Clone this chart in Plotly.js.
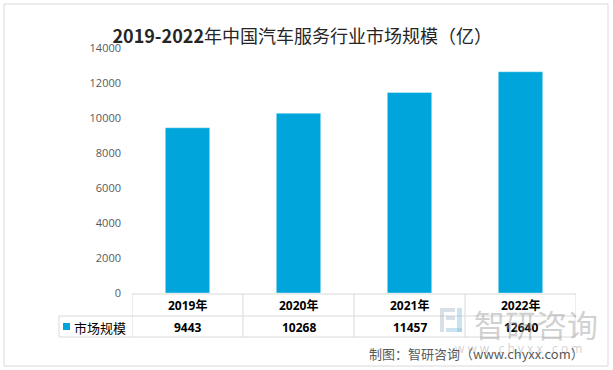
<!DOCTYPE html>
<html><head><meta charset="utf-8">
<script src="https://cdn.plot.ly/plotly-3.0.1.min.js"></script>
<style>html,body{margin:0;padding:0;background:#fff;}#chart{width:613px;height:370px;}</style>
</head><body><div id="chart"></div>
<script>
var categories = ['2019年', '2020年', '2021年', '2022年'];
var seriesName = '市场规模';
var values = [9443, 10268, 11457, 12640];
var yTicks = [0, 2000, 4000, 6000, 8000, 10000, 12000, 14000];

var W = 613, H = 370, L = 132, R = 576, T = 48, B = 293;
function xp(px){ return (px - L) / (R - L); }
function yp(py){ return (B - py) / (B - T); }
var BLUE = '#00A5DC';
var GRID = '#D9D9D9';

var shapes = [];
// outer border
shapes.push({type:'rect', xref:'paper', yref:'paper', x0:xp(4), x1:xp(608), y0:yp(4), y1:yp(366), line:{color:'#D9D9D9', width:1}, fillcolor:'rgba(0,0,0,0)', layer:'below'});
// table horizontal lines
shapes.push({type:'line', xref:'paper', yref:'paper', x0:0, x1:1, y0:yp(294), y1:yp(294), line:{color:GRID, width:1}});
shapes.push({type:'line', xref:'paper', yref:'paper', x0:xp(59), x1:1, y0:yp(316), y1:yp(316), line:{color:GRID, width:1}});
shapes.push({type:'line', xref:'paper', yref:'paper', x0:xp(59), x1:1, y0:yp(337), y1:yp(337), line:{color:GRID, width:1}});
shapes.push({type:'line', xref:'paper', yref:'paper', x0:xp(59), x1:xp(59), y0:yp(316), y1:yp(337), line:{color:GRID, width:1}});
for (var i = 0; i <= categories.length; i++) {
  shapes.push({type:'line', xref:'x', yref:'paper', x0:i - 0.5, x1:i - 0.5, y0:yp(294), y1:yp(337), line:{color:GRID, width:1}});
}
// legend key
shapes.push({type:'rect', xref:'paper', yref:'paper', x0:xp(63), x1:xp(70), y0:yp(323), y1:yp(330), fillcolor:BLUE, line:{width:0}});
// watermark logo
var wm = 'rgba(170,185,200,0.45)';
shapes.push({type:'rect', xref:'paper', yref:'paper', x0:xp(440), x1:xp(455), y0:yp(308), y1:yp(312), fillcolor:wm, line:{width:0}});
shapes.push({type:'rect', xref:'paper', yref:'paper', x0:xp(440), x1:xp(444), y0:yp(312), y1:yp(332), fillcolor:wm, line:{width:0}});
shapes.push({type:'rect', xref:'paper', yref:'paper', x0:xp(446), x1:xp(455), y0:yp(316), y1:yp(320), fillcolor:wm, line:{width:0}});
shapes.push({type:'rect', xref:'paper', yref:'paper', x0:xp(457), x1:xp(462), y0:yp(308), y1:yp(332), fillcolor:'rgba(140,190,225,0.45)', line:{width:0}});
shapes.push({type:'rect', xref:'paper', yref:'paper', x0:xp(446), x1:xp(462), y0:yp(328), y1:yp(332), fillcolor:'rgba(140,190,225,0.45)', line:{width:0}});

var annotations = [];
var tableFont = {family:'"Open Sans", "Noto Sans CJK SC", sans-serif', size:12, color:'#000'};
for (var j = 0; j < categories.length; j++) {
  annotations.push({xref:'x', yref:'paper', x:j, y:yp(305), text:'<b>' + categories[j] + '</b>', showarrow:false, xanchor:'center', yanchor:'middle', font:tableFont});
  annotations.push({xref:'x', yref:'paper', x:j, y:yp(327), text:'<b>' + values[j] + '</b>', showarrow:false, xanchor:'center', yanchor:'middle', font:tableFont});
}
annotations.push({xref:'paper', yref:'paper', x:xp(72), y:yp(327), text:seriesName, showarrow:false, xanchor:'left', yanchor:'middle', font:{family:'"Noto Sans CJK SC", sans-serif', size:13, color:'#000'}});
// watermark text
annotations.push({xref:'paper', yref:'paper', x:xp(536), y:yp(323), text:'智研咨询', showarrow:false, xanchor:'center', yanchor:'middle', font:{family:'"Noto Sans CJK SC", sans-serif', size:31, color:'rgba(150,150,150,0.45)'}});
annotations.push({xref:'paper', yref:'paper', x:xp(518), y:yp(348), text:'w w w . c h y x x . c o m', showarrow:false, xanchor:'center', yanchor:'middle', font:{family:'"Open Sans", sans-serif', size:12, color:'rgba(150,150,150,0.45)'}});
// source
annotations.push({xref:'paper', yref:'paper', x:xp(586), y:yp(354), text:'制图：智研咨询（www.chyxx.com）', showarrow:false, xanchor:'right', yanchor:'middle', font:{family:'"Noto Sans CJK SC", sans-serif', size:13, color:'#595959'}});

var data = [{
  type:'bar', x:categories, y:values, name:seriesName,
  marker:{color:BLUE, line:{color:'rgba(255,255,255,0.35)', width:1}},
  hoverinfo:'skip'
}];

var layout = {
  width:W, height:H,
  margin:{l:L, r:W - R, t:T, b:H - B, pad:0},
  paper_bgcolor:'#fff', plot_bgcolor:'#fff',
  showlegend:false,
  bargap:0.6,
  title:{text:'<b>2019-2022</b>年中国汽车服务行业市场规模（亿）', x:0.493, xanchor:'center', y:1 - 37/H, yanchor:'middle', font:{family:'"Noto Sans CJK SC", sans-serif', size:18, color:'#262626'}},
  xaxis:{type:'category', range:[-0.5, categories.length - 0.5], showticklabels:false, showline:false, showgrid:false, zeroline:false, ticks:''},
  yaxis:{range:[0, 14000], tickvals:yTicks, ticktext:yTicks.map(String), showgrid:false, zeroline:false, showline:false, ticks:'', ticklabelstandoff:10, tickfont:{family:'"Open Sans", sans-serif', size:11, color:'#595959'}},
  shapes:shapes,
  annotations:annotations
};
Plotly.newPlot('chart', data, layout, {staticPlot:true, displayModeBar:false});
</script></body></html>
